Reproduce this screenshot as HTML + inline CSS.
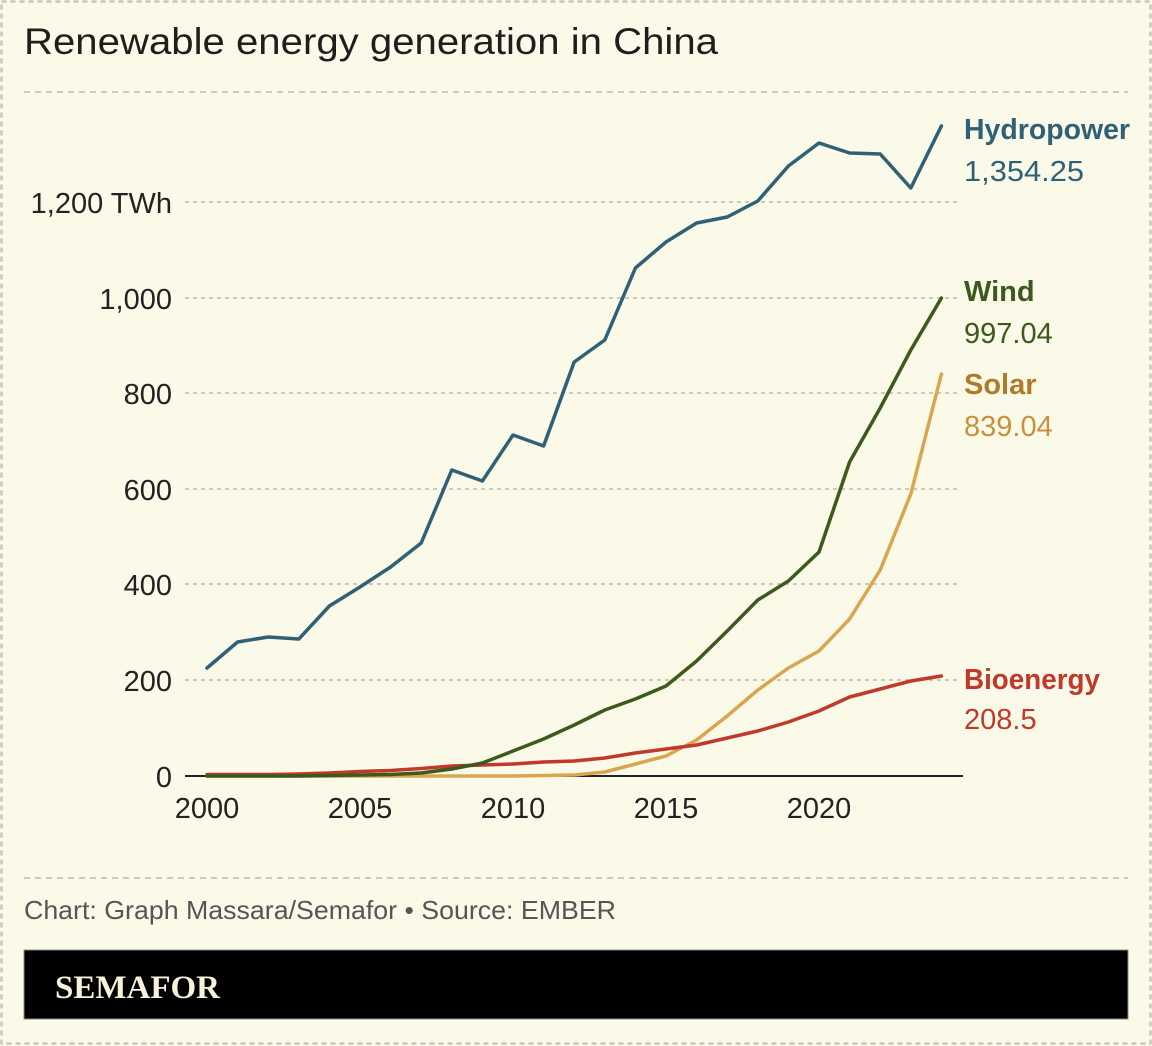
<!DOCTYPE html>
<html><head><meta charset="utf-8"><style>
html,body{margin:0;padding:0;background:#fbf9e8;}
body{width:1152px;height:1046px;overflow:hidden;position:relative;}
</style></head><body>
<svg width="1152" height="1046" viewBox="0 0 1152 1046" xmlns="http://www.w3.org/2000/svg" style="position:absolute;left:0;top:0">
<rect x="0" y="0" width="1152" height="1046" fill="#fbf9e8"/>
<rect x="1.5" y="1.5" width="1149" height="1042" fill="none" stroke="#c9c7b6" stroke-width="2.5" stroke-dasharray="5 4"/>
<text x="24" y="54" font-family="Liberation Sans, sans-serif" font-size="37" fill="#1e1e1e" textLength="694" lengthAdjust="spacingAndGlyphs">Renewable energy generation in China</text>
<g stroke="#bdbbad" stroke-width="1.6" stroke-dasharray="6 5">
<line x1="24" y1="92" x2="1128" y2="92"/>
<line x1="24" y1="878" x2="1128" y2="878"/>
</g>
<g stroke="#bdbbad" stroke-width="1.5" stroke-dasharray="4 4">
<line x1="185" y1="202" x2="960" y2="202"/>
<line x1="185" y1="298" x2="960" y2="298"/>
<line x1="185" y1="393" x2="960" y2="393"/>
<line x1="185" y1="489" x2="960" y2="489"/>
<line x1="185" y1="584" x2="960" y2="584"/>
<line x1="185" y1="680" x2="960" y2="680"/>
</g>
<line x1="185" y1="776" x2="963" y2="776" stroke="#222" stroke-width="2"/>
<g font-family="Liberation Sans Narrow, Liberation Sans, sans-serif" font-size="29" fill="#222" text-anchor="end">
<text x="172" y="213">1,200 TWh</text>
<text x="172" y="309">1,000</text>
<text x="172" y="404">800</text>
<text x="172" y="500">600</text>
<text x="172" y="595">400</text>
<text x="172" y="691">200</text>
<text x="172" y="787">0</text>
</g>
<g font-family="Liberation Sans Narrow, Liberation Sans, sans-serif" font-size="29" fill="#222" text-anchor="middle">
<text x="207" y="818">2000</text>
<text x="360" y="818">2005</text>
<text x="513" y="818">2010</text>
<text x="666" y="818">2015</text>
<text x="819" y="818">2020</text>
</g>
<g fill="none" stroke-width="3.5" stroke-linejoin="round" stroke-linecap="round">
<polyline stroke="#d9a550" points="207,776 237.6,776 268.2,776 298.8,776 329.4,776 360,776 390.6,776 421.2,776 451.8,776 482.4,776 513,776 543.6,775.5 574.2,775 604.8,772 635.4,764 666,756 696.6,740 727.2,716 757.8,690 788.4,668 819,651 849.6,619 880.2,570 910.8,494 941.4,374"/>
<polyline stroke="#c0392b" points="207,774.5 237.6,774.5 268.2,774.5 298.8,774 329.4,773 360,771.5 390.6,770.5 421.2,768.5 451.8,766 482.4,765 513,764 543.6,762 574.2,761 604.8,758 635.4,753 666,749 696.6,745 727.2,738 757.8,731 788.4,722 819,711 849.6,697 880.2,689 910.8,681 941.4,676"/>
<polyline stroke="#3b5a1c" points="207,776 237.6,776 268.2,776 298.8,776 329.4,775.5 360,775 390.6,774.5 421.2,773 451.8,769 482.4,763 513,751 543.6,739 574.2,725 604.8,710 635.4,699 666,686 696.6,661 727.2,631 757.8,600 788.4,581 819,552 849.6,462 880.2,408 910.8,350 941.4,298"/>
<polyline stroke="#2e6175" points="207,668 237.6,642 268.2,637 298.8,639 329.4,606 360,587 390.6,567 421.2,543 451.8,470 482.4,481 513,435 543.6,446 574.2,362 604.8,340 635.4,268 666,242 696.6,223 727.2,217 757.8,201 788.4,166 819,143 849.6,153 880.2,154 910.8,188 941.4,126"/>
</g>
<g font-family="Liberation Sans Narrow, Liberation Sans, sans-serif" font-size="29">
<text x="964" y="139" font-weight="bold" fill="#2e6175" textLength="166" lengthAdjust="spacingAndGlyphs">Hydropower</text>
<text x="964" y="181" fill="#2e6175" textLength="120" lengthAdjust="spacingAndGlyphs">1,354.25</text>
<text x="964" y="301" font-weight="bold" fill="#3b5a1c">Wind</text>
<text x="964" y="343" fill="#3b5a1c">997.04</text>
<text x="964" y="394" font-weight="bold" fill="#b07a28">Solar</text>
<text x="964" y="436" fill="#c9913e">839.04</text>
<text x="964" y="689" font-weight="bold" fill="#c0392b" textLength="136" lengthAdjust="spacingAndGlyphs">Bioenergy</text>
<text x="964" y="729" fill="#c0392b">208.5</text>
</g>
<text x="24" y="919" font-family="Liberation Sans Narrow, Liberation Sans, sans-serif" font-size="26" fill="#555" textLength="592" lengthAdjust="spacingAndGlyphs">Chart: Graph Massara/Semafor • Source: EMBER</text>
<rect x="24" y="950" width="1104" height="69" fill="#000" stroke="#888" stroke-width="1"/>
<text x="55" y="998" font-family="Liberation Serif, serif" font-weight="bold" font-size="33" fill="#f7f2d8">SEMAFOR</text>
</svg>
</body></html>
